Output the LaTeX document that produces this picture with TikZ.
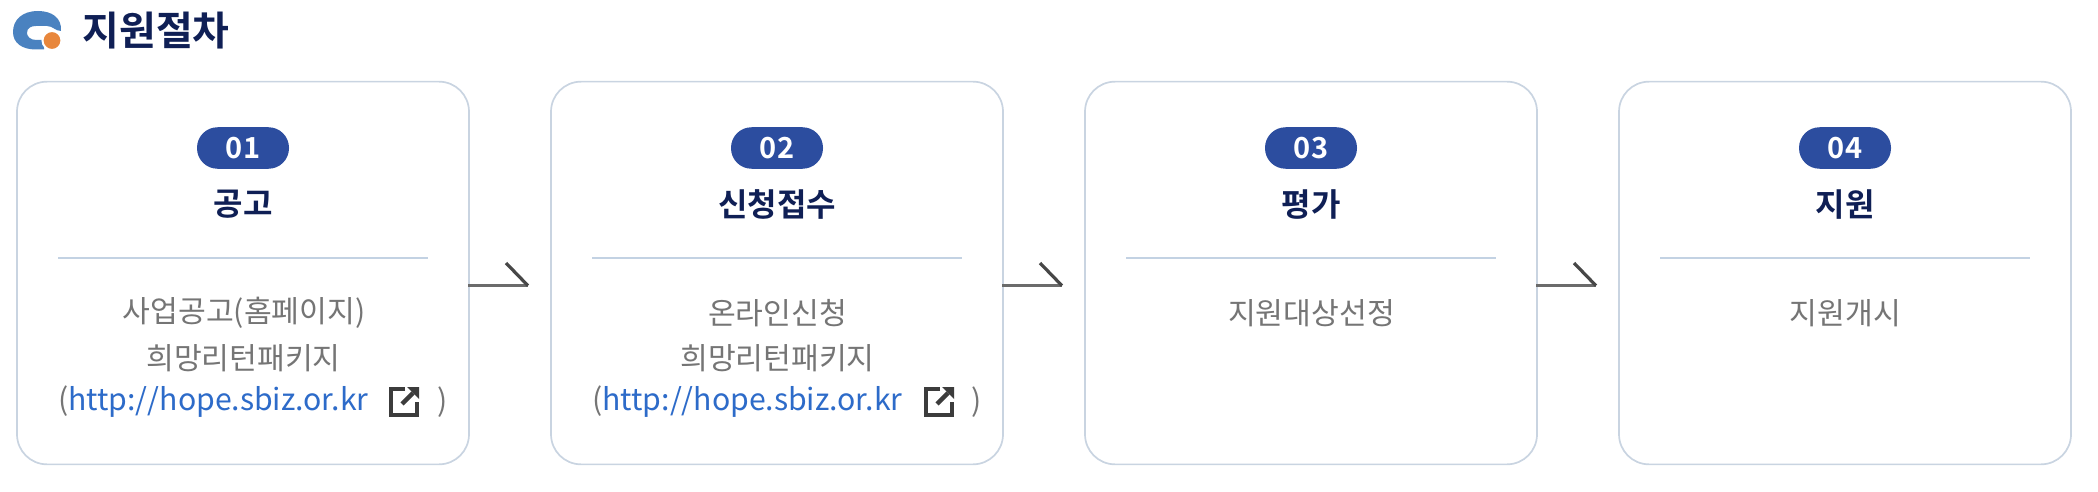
\documentclass[tikz,border=0pt]{standalone}
\usepackage{fontspec}
\setmainfont{Noto Sans CJK KR}
\newfontfamily\krbold{Noto Sans CJK KR Bold}
\definecolor{bordc}{HTML}{C9D4E1}
\definecolor{rulec}{HTML}{C3D2E3}
\definecolor{navyc}{HTML}{0F1F55}
\definecolor{badgec}{HTML}{2C4D9F}
\definecolor{grayc}{HTML}{757575}
\definecolor{linkc}{HTML}{2D6BC9}
\definecolor{iconb}{HTML}{4A82C0}
\definecolor{icono}{HTML}{E8873C}
\definecolor{extc}{HTML}{3C3C3C}
\tikzset{
 x=1pt,y=-1pt,
 card/.style={draw=bordc,line width=1.7pt,rounded corners=30pt,fill=white,minimum width=452pt,minimum height=382.7pt,inner sep=0pt},
 badge/.style={fill=badgec,rounded corners=20.5pt,minimum width=92pt,minimum height=41.5pt,inner sep=0pt,text=white,font=\fontsize{29}{29}\selectfont\krbold},
 ctitle/.style={text=navyc,inner sep=0pt,font=\fontsize{32}{32}\selectfont\krbold},
 hrule/.style={draw=rulec,line width=1.6pt},
 body/.style={text=grayc,inner sep=0pt,font=\fontsize{30.2}{30.2}\selectfont},
 shaft/.style={draw=black!58,line width=3.4pt},
 barb/.style={draw=black!72,line width=3.2pt},
}
\begin{document}
\begin{tikzpicture}
\useasboundingbox (0,0) rectangle (2098,492);
% heading icon
\path[fill=iconb] (61,31) .. controls (62,18) and (52,11) .. (38,11) .. controls (22,11) and (13,20) .. (13,32) .. controls (13,43) and (22,49.5) .. (36,49.5) -- (44,49.5) -- (44,40) -- (36,40) .. controls (30,40) and (27,36) .. (27,33) .. controls (27,28) and (31,26) .. (36,26) -- (47,26) .. controls (53,26) and (55,31) .. (61,31) -- cycle;
\path[fill=icono,draw=white,line width=2pt] (52,40.5) circle (9.5);
\node[inner sep=0pt,text=navyc,font=\fontsize{40}{40}\selectfont\krbold] (head) at (156,31) {지원절차};
% cards
\node[card] (c1) at (243,273) {};
\node[card] (c2) at (777,273) {};
\node[card] (c3) at (1311,273) {};
\node[card] (c4) at (1845,273) {};
\foreach \c/\n/\t in {c1/01/공고,c2/02/신청접수,c3/03/평가,c4/04/지원}{
  \node[badge] (\c b) at ([yshift=125pt]\c.center) {\n};
  \node[ctitle] (\c t) at ([yshift=68.5pt]\c.center) {\t};
  \draw[hrule] ([xshift=-185pt,yshift=15pt]\c.center) coordinate (\c l) -- ([xshift=185pt,yshift=15pt]\c.center) coordinate (\c r);
}
% body
\node[body] (c1x) at (244,313) {사업공고(홈페이지)};
\node[body] (c1y) at (243.5,358) {희망리턴패키지};
\node[body,anchor=west] (c1z) at (58,402) {(\textcolor{linkc}{http://hope.sbiz.or.kr}};
\node[body,anchor=east] (c1w) at (448,402) {)};
\node[body] (c2x) at (777.5,313) {온라인신청};
\node[body] (c2y) at (777.5,358) {희망리턴패키지};
\node[body,anchor=west] (c2z) at (592,402) {(\textcolor{linkc}{http://hope.sbiz.or.kr}};
\node[body,anchor=east] (c2w) at (982,402) {)};
\node[body] (c3x) at (1311.5,313) {지원대상선정};
\node[body] (c4x) at (1845.5,313) {지원개시};
% external link icons
\foreach \dx in {0,535}{
 \begin{scope}[xshift=\dx pt]
  \draw[extc,line width=4.4pt] (405,389) -- (391,389) -- (391,415) -- (417,415) -- (417,402);
  \draw[extc,line width=4.4pt] (402,404) -- (413,393);
  \fill[extc] (407,387) -- (419,387) -- (419,399) -- cycle;
 \end{scope}
}
% connectors
\foreach \a/\b/\x in {c1/c2/528,c2/c3/1062,c3/c4/1596}{
  \coordinate (\a tip) at (\x,285.7);
  \coordinate (\a barb) at (\x-22,263);
  \draw[shaft] ([xshift=-1.5pt,yshift=-12.7pt]\a.east) -- (\a tip);
  \draw[barb] (\a barb) -- (\a tip);
}
\end{tikzpicture}
\end{document}
